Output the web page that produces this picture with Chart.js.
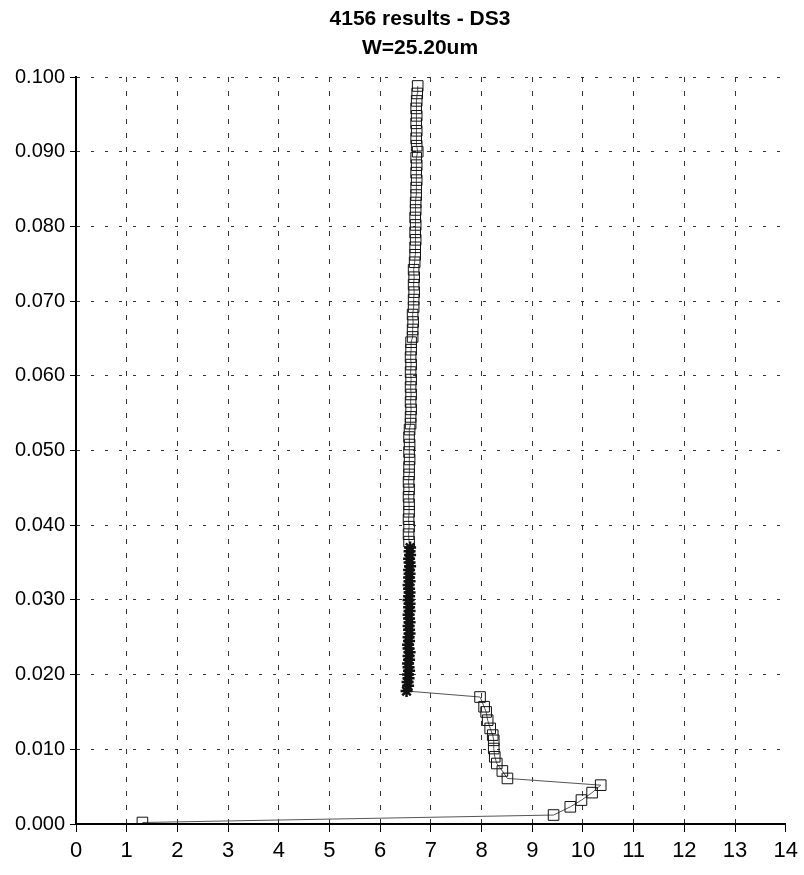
<!DOCTYPE html>
<html>
<head>
<meta charset="utf-8">
<script src="https://cdn.jsdelivr.net/npm/chart.js@4"></script>
<style>
  body { margin: 0; background: #fff; }
  canvas { display: block; }
</style>
</head>
<body>
<canvas id="ivChart" width="804" height="875"></canvas>
<script>
// sweep from zero out to the knee and back down to the step (open squares)
const sweepX = [1.31, 9.42, 9.75, 9.97, 10.18, 10.35, 8.51, 8.41, 8.30, 8.26, 8.24, 8.24, 8.22, 8.17, 8.12, 8.09, 8.05, 7.97];
const sweepY = [0.0002, 0.0012, 0.0023, 0.0032, 0.0042, 0.0052, 0.0061, 0.0071, 0.0081, 0.0090, 0.0101, 0.0112, 0.0119, 0.0128, 0.0139, 0.0150, 0.0157, 0.0170];

// dense part of the column (star markers)
const denseX = [6.52, 6.55, 6.54, 6.56, 6.55, 6.57, 6.56, 6.55, 6.57, 6.56, 6.58, 6.56, 6.55, 6.57, 6.56, 6.58, 6.57, 6.56, 6.58, 6.57,
                6.56, 6.58, 6.57, 6.58, 6.56, 6.57, 6.58, 6.57, 6.56, 6.58, 6.57, 6.58, 6.57, 6.59, 6.58, 6.57, 6.59, 6.58, 6.59];
const denseY = [0.0178, 0.0185, 0.0190, 0.0195, 0.0200, 0.0205, 0.0210, 0.0215, 0.0220, 0.0225, 0.0230, 0.0235, 0.0240, 0.0245, 0.0250, 0.0255, 0.0260, 0.0265, 0.0270, 0.0275,
                0.0280, 0.0285, 0.0290, 0.0295, 0.0300, 0.0305, 0.0310, 0.0315, 0.0320, 0.0325, 0.0330, 0.0335, 0.0340, 0.0345, 0.0350, 0.0355, 0.0360, 0.0365, 0.0370];

// upper part of the column (open squares)
const columnX = [6.57, 6.56, 6.57, 6.56, 6.57, 6.57, 6.56, 6.57, 6.56, 6.57, 6.57, 6.58, 6.57, 6.58, 6.57, 6.58,
                 6.60, 6.60, 6.61, 6.60, 6.61, 6.60, 6.61, 6.60, 6.61, 6.60, 6.61, 6.61,
                 6.64, 6.64, 6.65, 6.64, 6.66, 6.66, 6.67, 6.66, 6.67, 6.66, 6.68, 6.69, 6.69, 6.70, 6.69, 6.70, 6.69, 6.70,
                 6.70, 6.71, 6.71, 6.72, 6.71, 6.72, 6.71, 6.74, 6.72, 6.71, 6.72, 6.71, 6.72, 6.71, 6.72, 6.73, 6.74];
const columnY = [0.0378, 0.0388, 0.0398, 0.0408, 0.0418, 0.0428, 0.0438, 0.0448, 0.0458, 0.0468, 0.0478, 0.0488, 0.0498, 0.0508, 0.0518, 0.0528,
                 0.0536, 0.0545, 0.0555, 0.0565, 0.0575, 0.0585, 0.0595, 0.0605, 0.0615, 0.0625, 0.0635, 0.0645,
                 0.0652, 0.0662, 0.0672, 0.0682, 0.0692, 0.0702, 0.0712, 0.0722, 0.0732, 0.0742, 0.0752, 0.0762, 0.0772, 0.0782, 0.0792, 0.0802, 0.0812, 0.0822,
                 0.0832, 0.0842, 0.0852, 0.0862, 0.0872, 0.0882, 0.0892, 0.0900, 0.0908, 0.0918, 0.0928, 0.0938, 0.0948, 0.0958, 0.0968, 0.0978, 0.0988];

const xTicks = [0, 1, 2, 3, 4, 5, 6, 7, 8, 9, 10, 11, 12, 13, 14];
const titleLines = ['4156 results - DS3', 'W=25.20um'];

const FONT = "'Liberation Sans', Arial, sans-serif";

// one continuous trace, marker style depends on which block a point came from
const points = [], styles = [], radii = [], widths = [];
function addBlock(xs, ys, style, r, w) {
    xs.forEach((x, i) => {
        points.push({ x: x, y: ys[i] });
        styles.push(style);
        radii.push(r);
        widths.push(w);
    });
}
addBlock(sweepX, sweepY, 'rect', 7.5, 1);
addBlock(denseX, denseY, 'star', 6, 2.5);
addBlock(columnX, columnY, 'rect', 7.5, 1);

const titlePlugin = {
    id: 'twoLineTitle',
    afterDraw(chart) {
        const ctx = chart.ctx;
        ctx.save();
        ctx.fillStyle = '#000';
        ctx.font = 'bold 21px ' + FONT;
        ctx.textAlign = 'center';
        ctx.textBaseline = 'middle';
        ctx.fillText(titleLines[0], 420, 19);
        ctx.fillText(titleLines[1], 420, 48);
        ctx.restore();
    }
};

new Chart(document.getElementById('ivChart'), {
    type: 'scatter',
    data: {
        datasets: [{
            data: points,
            showLine: true,
            borderColor: '#555',
            borderWidth: 1,
            pointStyle: styles,
            pointRadius: radii,
            pointBorderWidth: widths,
            pointBorderColor: '#111',
            pointBackgroundColor: 'rgba(0,0,0,0)'
        }]
    },
    options: {
        responsive: false,
        animation: false,
        layout: { padding: { top: 77, right: 11, bottom: 0, left: 0 } },
        plugins: { legend: { display: false }, tooltip: { enabled: false } },
        scales: {
            x: {
                type: 'linear',
                min: 0,
                max: 14,
                afterBuildTicks: s => { s.ticks = xTicks.map(v => ({ value: v })); },
                afterFit: s => { s.height = 51; },
                ticks: { color: '#000', font: { family: FONT, size: 22 }, padding: 6, maxRotation: 0 },
                grid: {
                    color: c => (c.tick && (c.tick.value === 0 || c.tick.value === 14)) ? 'rgba(0,0,0,0)' : '#333',
                    lineWidth: 1,
                    tickColor: '#000',
                    tickLength: 8
                },
                border: { color: '#000', width: 2, dash: [5, 9] }
            },
            y: {
                min: 0,
                max: 0.1,
                ticks: {
                    stepSize: 0.01,
                    color: '#000',
                    font: { family: FONT, size: 20 },
                    padding: 5,
                    callback: v => v.toFixed(3)
                },
                afterFit: s => { s.width = 76; },
                grid: {
                    color: c => (c.tick && c.tick.value === 0) ? 'rgba(0,0,0,0)' : '#333',
                    lineWidth: 1,
                    tickColor: '#000',
                    tickLength: 6
                },
                border: { color: '#000', width: 2, dash: [3, 11] }
            }
        }
    },
    plugins: [titlePlugin]
});
</script>
</body>
</html>
